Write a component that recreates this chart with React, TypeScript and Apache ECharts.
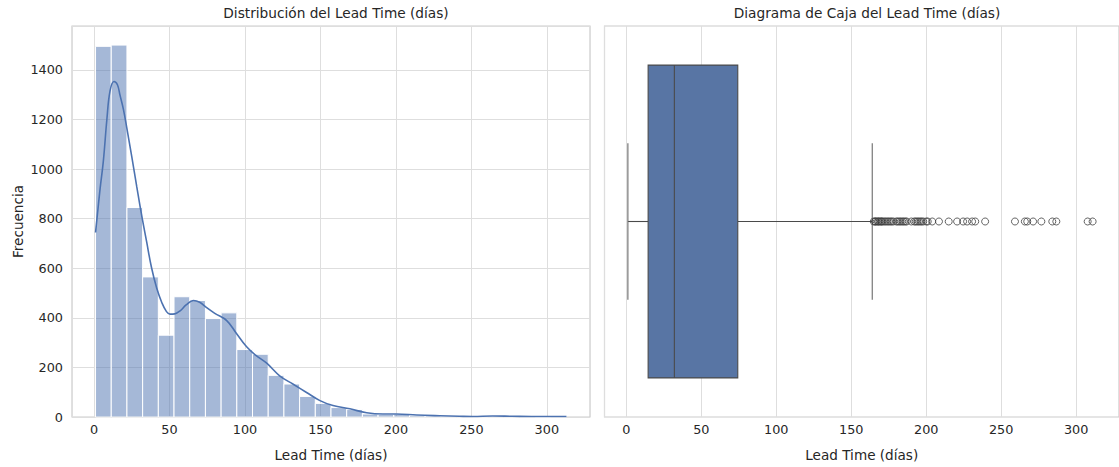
import React, { useEffect, useRef } from "react";
import * as echarts from "echarts";

const FONT = "DejaVu Sans";

// Histogram: 30 bins starting at 1 day, each ~10.4 days wide
const binStart = 1;
const binWidth = 10.4;
const binCounts = [
  1495, 1500, 845, 565, 330, 485, 470, 397, 420, 272,
  253, 168, 133, 83, 55, 38, 30, 12, 10, 12,
  6, 5, 3, 2, 1, 3, 2, 2, 0, 2,
];

// KDE curve: [days, density scaled to counts]
const kdeX = [1, 4, 6.2, 8.5, 10.6, 13.2, 15.5, 17.2, 19.5, 21.7, 25, 28.3, 31.5, 34.9, 38, 41.5, 45, 48, 50.3, 53.5, 57, 61, 65.8, 70, 74.6, 80, 87.9, 94, 101.1, 107, 114.4, 123.2, 132, 140.8, 149.7, 158.3, 169.5, 180.6, 191.4, 200.4, 213.7, 229, 242, 251, 264, 277, 290, 300, 313];
const kdeY = [744, 920, 1034, 1200, 1315, 1353, 1340, 1298, 1240, 1166, 1050, 929, 815, 705, 605, 520, 460, 425, 415, 416, 428, 452, 470, 463, 441, 418, 389, 340, 283, 250, 217, 165, 132, 99, 66, 46, 33, 17, 12, 12, 8, 5, 3, 2, 4, 3, 2, 2, 2];

// Box plot statistics: [min whisker, Q1, median, Q3, max whisker]
const boxStats = [1, 14.5, 32, 74.3, 164];
const outliers = [
  165, 166, 166, 167, 168, 168, 169, 170, 170, 171, 172, 173, 174, 175, 176,
  177, 178, 180, 181, 182, 183, 184, 185, 186, 187, 190, 192, 193, 194, 195,
  196, 197, 198, 200, 201, 204, 208.5, 215, 220.6, 224.6, 227.3, 230.6, 232.7,
  239.3, 259.2, 265.8, 267.4, 271.3, 276.8, 284.1, 286.8, 307.7, 311,
];

const xMin = -14.6;
const xMax = 328.6;
const yMax = 1577;

export default function App() {
  const ref = useRef<HTMLDivElement>(null);
  useEffect(() => {
    if (!ref.current) return;
    const chart = echarts.init(ref.current, null, { renderer: "svg" });
    const textColor = "#262626";
    const gridLine = { show: true, lineStyle: { color: "#dedede", width: 1 } };
    const histData = binCounts.map((c, i) => [
      binStart + i * binWidth,
      binStart + (i + 1) * binWidth,
      c,
    ]);
    const kdeData = kdeX.map((x, i) => [x, kdeY[i]]);
    const xAxisBase = {
      type: "value",
      min: xMin,
      max: xMax,
      splitNumber: 7,
      axisLine: { show: false },
      axisTick: { show: false },
      axisLabel: {
        showMinLabel: false,
        showMaxLabel: false,
        color: textColor,
        fontSize: 12.8,
        fontFamily: FONT,
        margin: 6,
      },
      splitLine: gridLine,
      name: "Lead Time (días)",
      nameLocation: "middle",
      nameGap: 31,
      nameTextStyle: { color: textColor, fontSize: 13.6, fontFamily: FONT },
    };
    const titleStyle = { color: textColor, fontSize: 13.7, fontWeight: "normal", fontFamily: FONT };
    chart.setOption({
      animation: false,
      backgroundColor: "#ffffff",
      title: [
        { text: "Distribución del Lead Time (días)", left: 331, top: 1, textAlign: "center", textStyle: titleStyle },
        { text: "Diagrama de Caja del Lead Time (días)", left: 862, top: 1, textAlign: "center", textStyle: titleStyle },
      ],
      grid: [
        { left: 72, top: 26, width: 518, height: 399, show: true, borderColor: "#cccccc", borderWidth: 1.2, backgroundColor: "transparent" },
        { left: 604.5, top: 26, width: 518.5, height: 399, show: true, borderColor: "#cccccc", borderWidth: 1.2, backgroundColor: "transparent" },
      ],
      xAxis: [
        { ...xAxisBase, gridIndex: 0 },
        { ...xAxisBase, gridIndex: 1 },
      ],
      yAxis: [
        {
          type: "value",
          gridIndex: 0,
          min: 0,
          max: yMax,
          splitNumber: 8,
          axisLine: { show: false },
          axisTick: { show: false },
          axisLabel: {
            showMaxLabel: false,
            color: textColor,
            fontSize: 12.8,
            fontFamily: FONT,
            margin: 9,
            formatter: (v: number) => String(v),
          },
          splitLine: gridLine,
          name: "Frecuencia",
          nameLocation: "middle",
          nameGap: 47,
          nameRotate: 90,
          nameTextStyle: { color: textColor, fontSize: 13.6, fontFamily: FONT },
        },
        {
          type: "value",
          gridIndex: 1,
          min: -0.5,
          max: 0.5,
          inverse: true,
          axisLine: { show: false },
          axisTick: { show: false },
          axisLabel: { show: false },
          splitLine: { show: false },
        },
      ],
      series: [
        {
          type: "custom",
          xAxisIndex: 0,
          yAxisIndex: 0,
          data: histData,
          encode: { x: [0, 1], y: 2 },
          renderItem: (params: any, api: any) => {
            const p0 = api.coord([api.value(0), 0]);
            const p1 = api.coord([api.value(1), api.value(2)]);
            return {
              type: "rect",
              shape: { x: p0[0], y: p1[1], width: p1[0] - p0[0], height: p0[1] - p1[1] },
              style: { fill: "rgba(76,114,176,0.5)", stroke: "#ffffff", lineWidth: 1 },
            };
          },
          z: 2,
        },
        {
          type: "line",
          xAxisIndex: 0,
          yAxisIndex: 0,
          data: kdeData,
          smooth: 0.4,
          showSymbol: false,
          lineStyle: { color: "#4c72b0", width: 1.6 },
          z: 3,
        },
        {
          type: "custom",
          xAxisIndex: 1,
          yAxisIndex: 1,
          data: [boxStats],
          encode: { x: [0, 1, 2, 3, 4] },
          renderItem: (params: any, api: any) => {
            const lo = api.value(0);
            const q1 = api.value(1);
            const med = api.value(2);
            const q3 = api.value(3);
            const hi = api.value(4);
            const c = (v: number, y: number) => api.coord([v, y]);
            const lineStyle = { stroke: "#4a4a4a", lineWidth: 1.1 };
            const capStyle = { stroke: "#6a6a6a", lineWidth: 1.1 };
            const bTop = c(q1, -0.4);
            const bBot = c(q3, 0.4);
            return {
              type: "group",
              children: [
                { type: "line", shape: { x1: c(lo, 0)[0], y1: c(lo, 0)[1], x2: c(q1, 0)[0], y2: c(q1, 0)[1] }, style: lineStyle },
                { type: "line", shape: { x1: c(q3, 0)[0], y1: c(q3, 0)[1], x2: c(hi, 0)[0], y2: c(hi, 0)[1] }, style: lineStyle },
                { type: "line", shape: { x1: c(lo, -0.2)[0], y1: c(lo, -0.2)[1], x2: c(lo, 0.2)[0], y2: c(lo, 0.2)[1] }, style: capStyle },
                { type: "line", shape: { x1: c(hi, -0.2)[0], y1: c(hi, -0.2)[1], x2: c(hi, 0.2)[0], y2: c(hi, 0.2)[1] }, style: capStyle },
                {
                  type: "rect",
                  shape: { x: bTop[0], y: bTop[1], width: bBot[0] - bTop[0], height: bBot[1] - bTop[1] },
                  style: { fill: "#5875a4", stroke: "#4a4a4a", lineWidth: 1.1 },
                },
                { type: "line", shape: { x1: c(med, -0.4)[0], y1: c(med, -0.4)[1], x2: c(med, 0.4)[0], y2: c(med, 0.4)[1] }, style: lineStyle },
              ],
            };
          },
          z: 2,
        },
        {
          type: "scatter",
          xAxisIndex: 1,
          yAxisIndex: 1,
          data: outliers.map((v) => [v, 0]),
          symbol: "circle",
          symbolSize: 7,
          itemStyle: { color: "rgba(0,0,0,0)", borderColor: "#3d3d3d", borderWidth: 1 },
          z: 3,
        },
      ],
    });
    return () => chart.dispose();
  }, []);
  return (
    <div
      ref={ref}
      style={{ position: "fixed", left: 0, top: 0, width: 1119, height: 467, background: "#fff" }}
    />
  );
}
